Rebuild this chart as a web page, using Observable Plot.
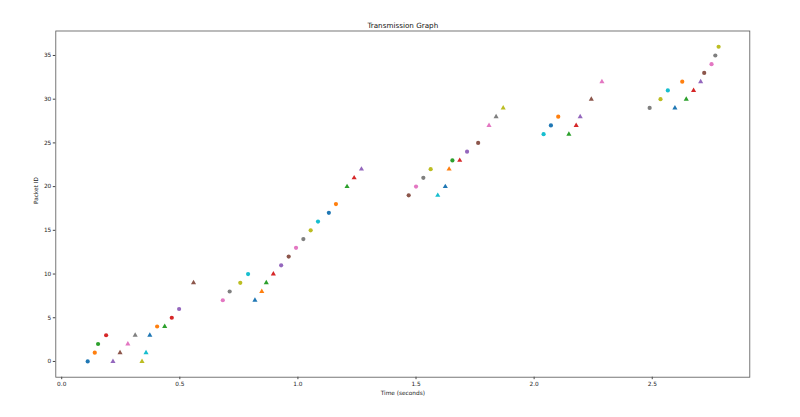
<!DOCTYPE html>
<html>
<head>
<meta charset="utf-8">
<script src="https://cdn.jsdelivr.net/npm/d3@7"></script>
<script src="https://cdn.jsdelivr.net/npm/@observablehq/plot@0.6"></script>
<style>
  html, body { margin: 0; padding: 0; background: #fff; }
  #chart svg { display: block; }
</style>
</head>
<body>
<div id="chart"></div>
<script>
const title = "Transmission Graph";
const xLabel = "Time (seconds)";
const yLabel = "Packet ID";

// time (s) of each event, in plotting order
const times = [
  0.110, 0.140, 0.154, 0.188, 0.217, 0.247, 0.280, 0.311, 0.340, 0.357,
  0.373, 0.404, 0.436, 0.466, 0.497, 0.558, 0.682, 0.711, 0.756, 0.789,
  0.818, 0.847, 0.866, 0.896, 0.929, 0.961, 0.992, 1.023, 1.054, 1.085,
  1.131, 1.161, 1.208, 1.238, 1.269,
  1.469, 1.500, 1.531, 1.562, 1.592, 1.624, 1.640, 1.654, 1.685, 1.716,
  1.763, 1.809, 1.839, 1.869,
  2.040, 2.071, 2.102, 2.147, 2.178, 2.195, 2.242, 2.287,
  2.489, 2.535, 2.566, 2.596, 2.627, 2.644, 2.675, 2.705, 2.720, 2.751,
  2.767, 2.781
];
// packet id of each event
const packetIds = [
  0, 1, 2, 3, 0, 1, 2, 3, 0, 1,
  3, 4, 4, 5, 6, 9, 7, 8, 9, 10,
  7, 8, 9, 10, 11, 12, 13, 14, 15, 16,
  17, 18, 20, 21, 22,
  19, 20, 21, 22, 19, 20, 22, 23, 23, 24,
  25, 27, 28, 29,
  26, 27, 28, 26, 27, 28, 30, 32,
  29, 30, 31, 29, 32, 30, 31, 32, 33, 34,
  35, 36
];
// marker kind: "o" circle, "^" triangle
const kinds = [
  "o","o","o","o","^","^","^","^","^","^",
  "^","o","^","o","o","^","o","o","o","o",
  "^","^","^","^","o","o","o","o","o","o",
  "o","o","^","^","^",
  "o","o","o","o","^","^","^","o","^","o",
  "o","^","^","^",
  "o","o","o","^","^","^","^","^",
  "o","o","o","^","o","^","^","^","o","o",
  "o","o"
];
const xTicks = [0, 0.5, 1.0, 1.5, 2.0, 2.5];
const yTicks = [0, 5, 10, 15, 20, 25, 30, 35];
const tab10 = ["#1f77b4","#ff7f0e","#2ca02c","#d62728","#9467bd",
               "#8c564b","#e377c2","#7f7f7f","#bcbd22","#17becf"];

const rows = times.map((t, i) => ({t, id: packetIds[i], kind: kinds[i], c: i % 10}));

const chart = Plot.plot({
  width: 800,
  height: 417,
  marginLeft: 55.3,
  marginRight: 50.7,
  marginTop: 30.5,
  marginBottom: 40.3,
  style: {fontFamily: "DejaVu Sans", fontSize: "5.8px", color: "#222", background: "#fff"},
  x: {domain: [-0.025, 2.913], label: null},
  y: {domain: [-1.8, 37.8], label: null},
  color: {type: "ordinal", domain: d3.range(10), range: tab10},
  marks: [
    Plot.axisX({ticks: xTicks, tickFormat: d3.format(".1f"), tickSize: 2.5, tickPadding: 2, label: null, stroke: "#444"}),
    Plot.axisY({ticks: yTicks, tickSize: 2.5, tickPadding: 2, label: null, stroke: "#444"}),
    Plot.frame({stroke: "#555", strokeWidth: 0.8}),
    Plot.dot(rows.filter(d => d.kind === "o"), {x: "t", y: "id", fill: "c", r: 2.1, symbol: "circle"}),
    Plot.dot(rows.filter(d => d.kind === "^"), {x: "t", y: "id", fill: "c", r: 1.9, symbol: "triangle"}),
    Plot.text([title], {frameAnchor: "top", lineAnchor: "bottom", dy: -3.5, fontSize: 7.2, fill: "#111"}),
    Plot.text([xLabel], {frameAnchor: "bottom", lineAnchor: "top", dy: 13.5, fontSize: 5.8, fill: "#222"}),
    Plot.text([yLabel], {frameAnchor: "left", rotate: -90, dx: -20, fontSize: 5.8, fill: "#222"})
  ]
});
document.getElementById("chart").appendChild(chart);
</script>
</body>
</html>
